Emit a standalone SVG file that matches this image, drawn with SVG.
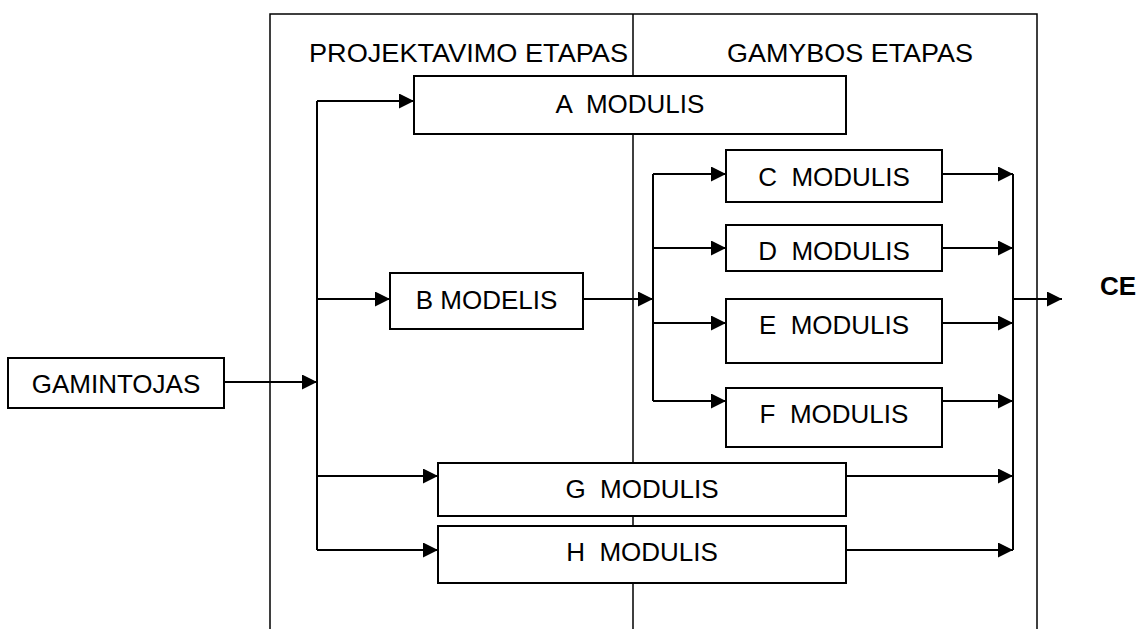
<svg xmlns="http://www.w3.org/2000/svg" width="1137" height="629" viewBox="0 0 1137 629">
<style>
.frame{fill:none;stroke:#000;stroke-width:1.5}
.box{fill:#fff;stroke:#000;stroke-width:2}
.c{fill:none;stroke:#000;stroke-width:2}
.t{font-family:"Liberation Sans",Arial,sans-serif;font-size:26px;fill:#000;white-space:pre}
.m{text-anchor:middle}
.b{font-weight:bold}
</style>
<defs>
<marker id="ah" markerUnits="userSpaceOnUse" markerWidth="16" markerHeight="15" refX="15" refY="7.5" orient="auto">
<path d="M0,0 L15,7.5 L0,15 z" fill="#000"/>
</marker>
</defs>
<rect width="1137" height="629" fill="#fff"/>
<g id="frame">
<path class="frame" d="M270,629 V14 H1037 V629 M633,14 V629"/>
<text class="t" x="309" y="62" textLength="319" lengthAdjust="spacingAndGlyphs">PROJEKTAVIMO ETAPAS</text>
<text class="t" x="727" y="62" textLength="246" lengthAdjust="spacingAndGlyphs">GAMYBOS ETAPAS</text>
</g>
<g id="connectors">
<path class="c" d="M317,101 V550"/>
<path class="c" d="M653,174 V401"/>
<path class="c" d="M1013,174 V550"/>
<path class="c" d="M224,382 H317" marker-end="url(#ah)"/>
<path class="c" d="M317,101 H414" marker-end="url(#ah)"/>
<path class="c" d="M317,299 H390" marker-end="url(#ah)"/>
<path class="c" d="M317,476 H438" marker-end="url(#ah)"/>
<path class="c" d="M317,550 H438" marker-end="url(#ah)"/>
<path class="c" d="M583,299 H653" marker-end="url(#ah)"/>
<path class="c" d="M653,174 H726" marker-end="url(#ah)"/>
<path class="c" d="M653,248 H726" marker-end="url(#ah)"/>
<path class="c" d="M653,323 H726" marker-end="url(#ah)"/>
<path class="c" d="M653,401 H726" marker-end="url(#ah)"/>
<path class="c" d="M942,174 H1013" marker-end="url(#ah)"/>
<path class="c" d="M942,248 H1013" marker-end="url(#ah)"/>
<path class="c" d="M942,323 H1013" marker-end="url(#ah)"/>
<path class="c" d="M942,401 H1013" marker-end="url(#ah)"/>
<path class="c" d="M846,476 H1013" marker-end="url(#ah)"/>
<path class="c" d="M846,550 H1013" marker-end="url(#ah)"/>
<path class="c" d="M1013,299 H1062" marker-end="url(#ah)"/>
</g>
<g id="gamintojas">
<rect class="box" x="8" y="358" width="216" height="50"/>
<text class="t m" x="116" y="393">GAMINTOJAS</text>
</g>
<g id="a-modulis">
<rect class="box" x="414" y="76" width="432" height="58"/>
<text class="t m" x="630" y="113" xml:space="preserve">A  MODULIS</text>
</g>
<g id="b-modelis">
<rect class="box" x="390" y="273" width="193" height="56"/>
<text class="t m" x="486.5" y="309">B MODELIS</text>
</g>
<g id="c-modulis">
<rect class="box" x="726" y="150" width="216" height="52"/>
<text class="t m" x="834" y="186" xml:space="preserve">C  MODULIS</text>
</g>
<g id="d-modulis">
<rect class="box" x="726" y="225" width="216" height="46"/>
<text class="t m" x="834" y="260" xml:space="preserve">D  MODULIS</text>
</g>
<g id="e-modulis">
<rect class="box" x="726" y="299" width="216" height="64"/>
<text class="t m" x="834" y="334" xml:space="preserve">E  MODULIS</text>
</g>
<g id="f-modulis">
<rect class="box" x="726" y="388" width="216" height="59"/>
<text class="t m" x="834" y="423" xml:space="preserve">F  MODULIS</text>
</g>
<g id="g-modulis">
<rect class="box" x="438" y="463" width="408" height="53"/>
<text class="t m" x="642" y="498" xml:space="preserve">G  MODULIS</text>
</g>
<g id="h-modulis">
<rect class="box" x="438" y="526" width="408" height="57"/>
<text class="t m" x="642" y="561" xml:space="preserve">H  MODULIS</text>
</g>
<g id="ce">
<text class="t b" x="1100" y="295">CE</text>
</g>
</svg>
